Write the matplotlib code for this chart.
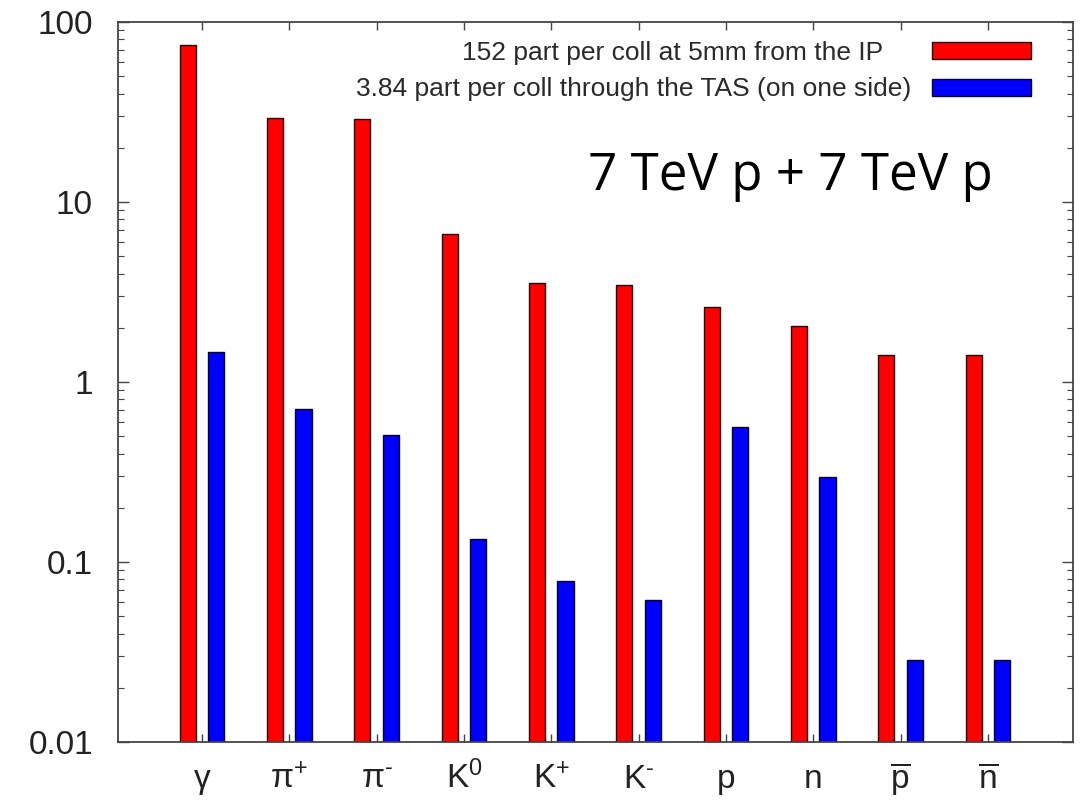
import matplotlib
matplotlib.use('Agg')
import matplotlib.pyplot as plt
from matplotlib.patches import Rectangle
from matplotlib.ticker import LogLocator, NullFormatter, FixedLocator
import numpy as np

plt.rcParams['font.family'] = ['Liberation Sans', 'DejaVu Sans']
plt.rcParams['mathtext.fontset'] = 'custom'
plt.rcParams['mathtext.rm'] = 'Liberation Sans'
plt.rcParams['mathtext.it'] = 'Liberation Sans:italic'
plt.rcParams['mathtext.bf'] = 'Liberation Sans:bold'

# ---- data ----
particles = ['γ', 'π$^{+}$', 'π$^{\\mathrm{\u2010}}$', 'K$^{0}$', 'K$^{+}$', 'K$^{\\mathrm{\u2010}}$', 'p', 'n',
             r'$\overline{\mathrm{p}}$', r'$\overline{\mathrm{n}}$']
ip_5mm = [74.5, 29.4, 28.8, 6.6, 3.56, 3.46, 2.6, 2.05, 1.41, 1.41]
through_tas = [1.47, 0.705, 0.507, 0.134, 0.0787, 0.0612, 0.56, 0.295, 0.0285, 0.0285]
label_ip = '152 part per coll at 5mm from the IP'
label_tas = '3.84 part per coll through the TAS (on one side)'
title_text = '7 TeV p + 7 TeV p'
yticks = [0.01, 0.1, 1, 10, 100]
ytick_labels = ['0.01', '0.1', '1', '10', '100']

# ---- figure ----
fig = plt.figure(figsize=(10.8, 8.01), dpi=100)
ax = fig.add_axes([118/1080, 1-742/801, 955/1080, 720/801])
ax.set_yscale('log')

x = np.arange(len(particles))
off = 0.163
w = 0.185
ax.bar(x - off, ip_5mm, width=w, color='#ff0000', edgecolor='#220000', linewidth=1.0)
ax.bar(x + off, through_tas, width=w, color='#0000ff', edgecolor='#000022', linewidth=1.0)

ax.set_ylim(0.01, 100)
ax.set_xlim(-0.962, 9.975)

ax.yaxis.set_major_locator(FixedLocator(yticks))
ax.set_yticklabels(ytick_labels)
ax.yaxis.set_minor_locator(LogLocator(base=10, subs=np.arange(2, 10)))
ax.yaxis.set_minor_formatter(NullFormatter())
ax.tick_params(axis='y', which='major', direction='in', length=8, width=1.0, color='#444444',
               left=True, right=True, labelsize=24, labelcolor='#222222', pad=18)
ax.tick_params(axis='y', which='minor', direction='in', length=4, width=0.8, color='#444444',
               left=True, right=True)

ax.set_xticks(x)
ax.set_xticklabels(particles, va='baseline')
ax.tick_params(axis='x', which='major', direction='in', length=6, width=1.0, color='#444444',
               top=True, bottom=True, labelsize=24, labelcolor='#222222', pad=33)

for sp in ax.spines.values():
    sp.set_color('#444444')
    sp.set_linewidth(1.3)

# ---- key (legend) ----
sw_x0, sw_w, sw_h = 0.8524, 0.1036, 0.0243
ax.add_patch(Rectangle((sw_x0, 0.9480), sw_w, sw_h, transform=ax.transAxes,
                       facecolor='#ff0000', edgecolor='#220000', linewidth=1.0, clip_on=False))
ax.add_patch(Rectangle((sw_x0, 0.8972), sw_w, sw_h, transform=ax.transAxes,
                       facecolor='#0000ff', edgecolor='#000022', linewidth=1.0, clip_on=False))
ax.text(0.801, 0.9472, label_ip, transform=ax.transAxes, ha='right', va='baseline',
        fontsize=19, color='#2a2a2a')
ax.text(0.8304, 0.8967, label_tas, transform=ax.transAxes, ha='right', va='baseline',
        fontsize=19, color='#2a2a2a')

ax.text(0.492, 0.7667, title_text, transform=ax.transAxes, ha='left', va='baseline',
        fontsize=36.8, family=['Open Sans', 'DejaVu Sans'], color='black')

fig.savefig('out.png', dpi=100, facecolor='white')
